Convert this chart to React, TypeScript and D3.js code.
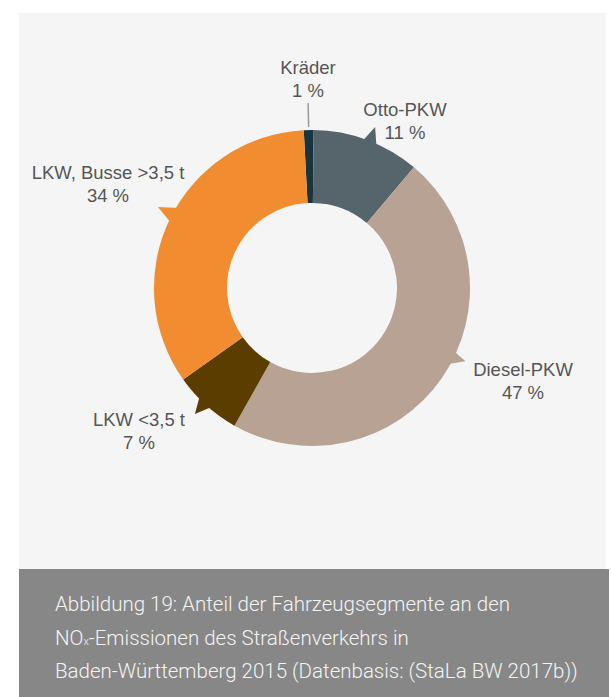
import React, { useEffect } from "react";
import * as d3 from "d3";

const categories = ["Kräder", "Otto-PKW", "Diesel-PKW", "LKW <3,5 t", "LKW, Busse >3,5 t"];
const shares = [1, 11, 47, 7, 34];
const colors = ["#17343f", "#56656c", "#b8a293", "#5c3d00", "#f28c30"];
const captionLines = [
  "Abbildung 19: Anteil der Fahrzeugsegmente an den",
  "NO|x|-Emissionen des Straßenverkehrs in",
  "Baden-Württemberg 2015 (Datenbasis: (StaLa BW 2017b))",
];

const W = 611;
const H = 697;
const CX = 312;
const CY = 288;
const R_OUT = 158;
const R_IN = 85;
const START_DEG = -3;

// tail callouts (degrees clockwise from top) per slice index
const tails: Record<number, { a1: number; a2: number; tip: number; r: number }> = {
  1: { a1: 18.7, a2: 24.8, tip: 21.4, r: 173 },
  2: { a1: 113.8, a2: 119.8, tip: 115.5, r: 170 },
  3: { a1: 219.9, a2: 226.5, tip: 222.9, r: 172 },
  4: { a1: 294.6, a2: 301.3, tip: 297.7, r: 174 },
};

// label anchor positions (center x, first baseline y)
const labelPos = [
  { x: 308, y: 74 },
  { x: 405, y: 116 },
  { x: 523, y: 376 },
  { x: 139, y: 426 },
  { x: 108, y: 179 },
];

const rad = (d: number) => (d * Math.PI) / 180;
const polar = (deg: number, r: number): [number, number] => [
  CX + Math.sin(rad(deg)) * r,
  CY - Math.cos(rad(deg)) * r,
];

export default function App() {
  useEffect(() => {
    document.body.style.margin = "0";
  }, []);

  const pie = d3
    .pie<number>()
    .sort(null)
    .value((d) => d)
    .startAngle(rad(START_DEG))
    .endAngle(rad(START_DEG) + 2 * Math.PI);
  const arcs = pie(shares);
  const arcGen = d3.arc<d3.PieArcDatum<number>>().innerRadius(R_IN).outerRadius(R_OUT);

  const kraederMid = ((arcs[0].startAngle + arcs[0].endAngle) / 2) * (180 / Math.PI);
  const [lx1, ly1] = polar(kraederMid, R_OUT + 3);
  const [lx2, ly2] = polar(kraederMid, R_OUT + 27);

  const labelFont = "'Liberation Sans', Arial, sans-serif";

  return (
    <svg width={W} height={H} style={{ display: "block" }}>
      <rect x={0} y={0} width={W} height={H} fill="#ffffff" />
      <rect x={19} y={13} width={587} height={556} fill="#f5f5f5" />
      <rect x={19} y={569} width={590} height={H - 569} fill="#878787" />

      {arcs.map((a, i) => {
        const t = tails[i];
        let tailPath = null;
        if (t) {
          const p1 = polar(t.a1, R_OUT - 4);
          const p2 = polar(t.tip, t.r);
          const p3 = polar(t.a2, R_OUT - 4);
          tailPath = (
            <path d={`M${p1[0]},${p1[1]}L${p2[0]},${p2[1]}L${p3[0]},${p3[1]}Z`} fill={colors[i]} />
          );
        }
        return (
          <g key={i}>
            <path d={arcGen(a) || ""} transform={`translate(${CX},${CY})`} fill={colors[i]} />
            {tailPath}
          </g>
        );
      })}

      <line x1={lx1} y1={ly1} x2={lx2} y2={ly2} stroke="#9a9a9a" strokeWidth={1.5} />

      {categories.map((c, i) => (
        <text
          key={c}
          x={labelPos[i].x}
          y={labelPos[i].y}
          textAnchor="middle"
          fontFamily={labelFont}
          fontSize={18.5}
          fill="#555555"
        >
          <tspan x={labelPos[i].x}>{c}</tspan>
          <tspan x={labelPos[i].x} dy={22.5}>
            {shares[i]} %
          </tspan>
        </text>
      ))}

      {captionLines.map((line, i) => {
        const parts = line.split("|");
        return (
          <text
            key={i}
            x={55}
            y={611 + i * 33.5}
            fontFamily="Roboto, sans-serif"
            fontWeight={300}
            fontSize={20.5}
            fill="#f4f4f4"
          >
            {parts.length === 1 ? (
              line
            ) : (
              <>
                {parts[0]}
                <tspan fontSize={11}>{parts[1]}</tspan>
                {parts[2]}
              </>
            )}
          </text>
        );
      })}
    </svg>
  );
}
